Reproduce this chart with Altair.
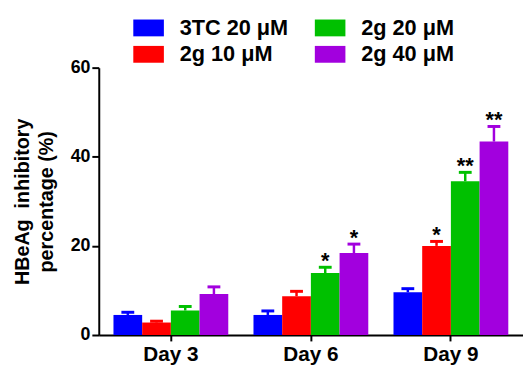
import altair as alt
import pandas as pd

days = ["Day 3", "Day 6", "Day 9"]
groups = ["3TC 20 μM", "2g 10 μM", "2g 20 μM", "2g 40 μM"]
group_colors = ["#0000FF", "#FF0000", "#00C000", "#A200DE"]

mean_3tc20 = [4.5, 4.5, 9.6]
mean_2g10 = [2.8, 8.7, 20.0]
mean_2g20 = [5.5, 13.9, 34.5]
mean_2g40 = [9.2, 18.4, 43.4]

err_3tc20 = [0.6, 0.9, 0.8]
err_2g10 = [0.3, 1.1, 1.0]
err_2g20 = [0.9, 1.3, 2.0]
err_2g40 = [1.6, 2.0, 3.4]

star_3tc20 = ["", "", ""]
star_2g10 = ["", "", "*"]
star_2g20 = ["", "*", "**"]
star_2g40 = ["", "*", "**"]

means = [mean_3tc20, mean_2g10, mean_2g20, mean_2g40]
errs = [err_3tc20, err_2g10, err_2g20, err_2g40]
stars = [star_3tc20, star_2g10, star_2g20, star_2g40]

rows = []
for g, m, e, s in zip(groups, means, errs, stars):
    for d, mv, ev, sv in zip(days, m, e, s):
        rows.append({"day": d, "group": g, "mean": mv, "upper": mv + ev, "star": sv})
df = pd.DataFrame(rows)

FONT = "Liberation Sans"

x_enc = alt.X("day:N", sort=days, title=None,
              scale=alt.Scale(paddingInner=0.18, paddingOuter=0.105),
              axis=alt.Axis(labelAngle=0, labelFontSize=21, labelPadding=3,
                            tickSize=6))
xoff = alt.XOffset("group:N", sort=groups,
                   scale=alt.Scale(paddingInner=0, paddingOuter=0))
color_scale = alt.Scale(domain=groups, range=group_colors)

y_scale = alt.Scale(domain=[0, 60], nice=False)

bars = alt.Chart(df).mark_bar(opacity=1).encode(
    x=x_enc,
    xOffset=xoff,
    y=alt.Y("mean:Q", scale=y_scale,
            title=["HBeAg\u00a0 inhibitory", "percentage (%)"],
            axis=alt.Axis(values=[0, 20, 40, 60], titleFontSize=20,
                          titleLineHeight=24, titlePadding=14, tickSize=7)),
    color=alt.Color("group:N", scale=color_scale,
                    legend=alt.Legend(
                        title=None, orient="none", legendX=35, legendY=-56,
                        direction="vertical",
                        columns=2, columnPadding=26, rowPadding=0,
                        symbolType="M-1,-0.55L1,-0.55L1,0.55L-1,0.55Z",
                        symbolSize=961, symbolStrokeWidth=0, symbolOpacity=1,
                        labelFont=FONT, labelFontWeight="bold",
                        labelFontSize=22, labelOffset=16, labelColor="black",
                        padding=0)),
)

stems = alt.Chart(df).mark_rule(strokeWidth=2.5).encode(
    x=x_enc, xOffset=xoff,
    y=alt.Y("mean:Q", scale=y_scale),
    y2="upper:Q",
    color=alt.Color("group:N", scale=color_scale, legend=None),
)

caps = alt.Chart(df).mark_tick(thickness=3, size=13, opacity=1).encode(
    x=x_enc, xOffset=xoff,
    y=alt.Y("upper:Q", scale=y_scale),
    color=alt.Color("group:N", scale=color_scale, legend=None),
)

labels = alt.Chart(df).mark_text(
    font=FONT, fontWeight="bold", fontSize=22, color="black",
    baseline="alphabetic", dy=1,
).encode(
    x=x_enc, xOffset=xoff,
    y=alt.Y("upper:Q", scale=y_scale),
    text="star:N",
)

chart = alt.layer(bars, stems, caps, labels).resolve_legend(
    color="independent"
).properties(
    width=430, height=271,
    autosize=alt.AutoSizeParams(type="none"),
    padding={"left": 92, "top": 58, "right": 0, "bottom": 32},
).configure_view(stroke=None).configure_axis(
    domainColor="black", domainWidth=2, tickColor="black", tickWidth=2,
    labelFont=FONT, labelFontWeight="bold", labelFontSize=18,
    labelColor="black", titleFont=FONT, titleFontWeight="bold",
    titleColor="black", grid=False,
)

chart.save("out.html", embed_options={"renderer": "svg", "actions": False})
